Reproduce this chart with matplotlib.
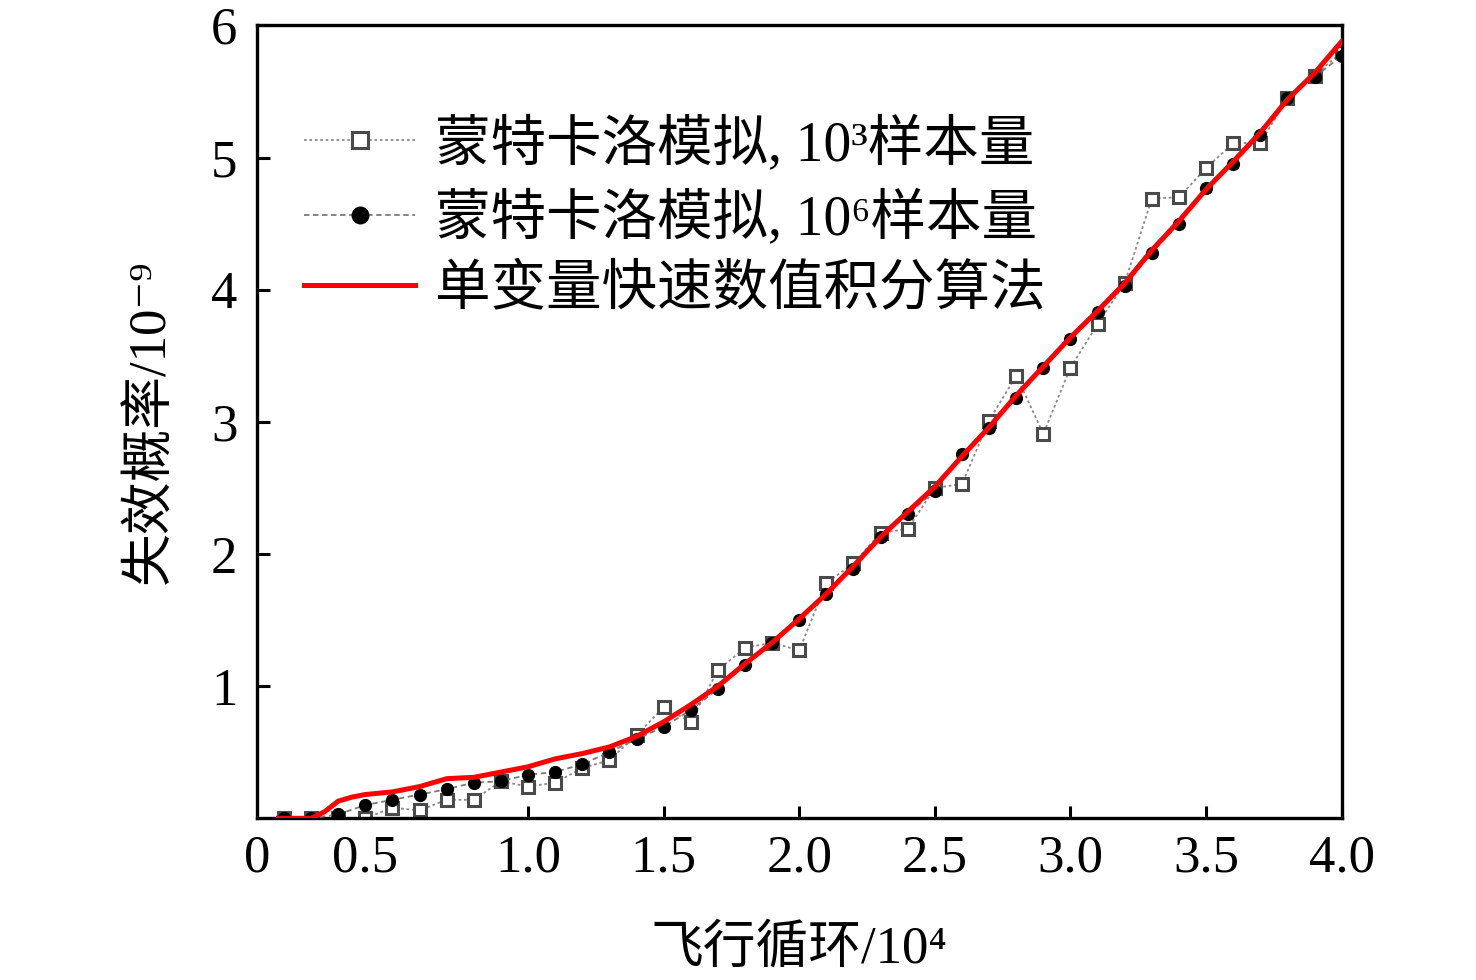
import matplotlib
matplotlib.use("Agg")
import matplotlib.pyplot as plt

plt.rcParams['font.family'] = ['Liberation Serif', 'Noto Sans CJK SC', 'DejaVu Serif']

# ---- data ----
x_mc = [0.1, 0.2, 0.3, 0.4, 0.5, 0.6, 0.7, 0.8, 0.9, 1.0,
        1.1, 1.2, 1.3, 1.4, 1.5, 1.6, 1.7, 1.8, 1.9, 2.0,
        2.1, 2.2, 2.3, 2.4, 2.5, 2.6, 2.7, 2.8, 2.9, 3.0,
        3.1, 3.2, 3.3, 3.4, 3.5, 3.6, 3.7, 3.8, 3.9, 4.0]
mc_1e3 = [0.00, 0.00, 0.00, 0.00, 0.08, 0.06, 0.14, 0.14, 0.28, 0.24,
          0.27, 0.38, 0.44, 0.63, 0.84, 0.73, 1.12, 1.29, 1.33, 1.27,
          1.78, 1.93, 2.16, 2.19, 2.50, 2.53, 3.01, 3.35, 2.91, 3.41,
          3.74, 4.05, 4.69, 4.70, 4.92, 5.11, 5.11, 5.45, 5.62, 5.80]
mc_1e6 = [0.00, 0.00, 0.03, 0.10, 0.14, 0.18, 0.22, 0.27, 0.28, 0.33,
          0.35, 0.41, 0.50, 0.60, 0.69, 0.82, 0.98, 1.16, 1.33, 1.50,
          1.70, 1.89, 2.13, 2.30, 2.48, 2.76, 2.95, 3.18, 3.41, 3.63,
          3.83, 4.03, 4.28, 4.50, 4.77, 4.95, 5.17, 5.45, 5.61, 5.77]
x_fast = [0.08, 0.2, 0.25, 0.3, 0.35, 0.4, 0.5, 0.6, 0.7, 0.8, 0.9, 1.0,
          1.1, 1.2, 1.3, 1.4, 1.5, 1.6, 1.7, 1.8, 1.9, 2.0,
          2.1, 2.2, 2.3, 2.4, 2.5, 2.6, 2.7, 2.8, 2.9, 3.0,
          3.1, 3.2, 3.3, 3.4, 3.5, 3.6, 3.7, 3.8, 3.9, 4.0]
fast = [0.00, 0.00, 0.05, 0.13, 0.16, 0.18, 0.20, 0.24, 0.30, 0.31, 0.35, 0.39,
        0.45, 0.49, 0.54, 0.62, 0.73, 0.86, 1.00, 1.17, 1.33, 1.51,
        1.70, 1.91, 2.13, 2.32, 2.51, 2.74, 2.96, 3.20, 3.42, 3.64,
        3.84, 4.05, 4.30, 4.52, 4.76, 4.97, 5.19, 5.44, 5.64, 5.88]

labels = ['蒙特卡洛模拟, 10³样本量', '蒙特卡洛模拟, 10⁶样本量', '单变量快速数值积分算法']
xtick_pos = [0.0, 0.4, 1.0, 1.5, 2.0, 2.5, 3.0, 3.5, 4.0]
xtick_lab = ['0', '0.5', '1.0', '1.5', '2.0', '2.5', '3.0', '3.5', '4.0']
ytick_pos = [1, 2, 3, 4, 5, 6]
ytick_lab = ['1', '2', '3', '4', '5', '6']

fig = plt.figure(figsize=(14.76, 9.8), dpi=100)
ax = fig.add_axes([0.174, 0.165, 0.735, 0.809])

ax.plot(x_mc, mc_1e3, linestyle=(0, (1.5, 1.5)), color='#8a8a8a', lw=1.3,
        marker='s', markersize=8, markerfacecolor='white',
        markeredgecolor='#4a4a4a', markeredgewidth=2.2, label=labels[0], zorder=2)
ax.plot(x_mc, mc_1e6, linestyle=(0, (3, 2)), color='#7a7a7a', lw=1.3,
        marker='o', markersize=8.5, markerfacecolor='black',
        markeredgecolor='black', label=labels[1], zorder=3)
ax.plot(x_fast, fast, color='#ff0000', lw=3.6, label=labels[2], zorder=4)

ax.set_xlim(0, 4.0)
ax.set_ylim(0, 6)
ax.set_xticks(xtick_pos)
ax.set_xticklabels(xtick_lab)
ax.set_yticks(ytick_pos)
ax.set_yticklabels(ytick_lab)
ax.tick_params(direction='in', length=9, width=2.2, labelsize=38, pad=12)
ax.tick_params(axis='y', pad=14)
for t in ax.xaxis.get_major_ticks()[:2]:
    t.tick1line.set_visible(False)
for s in ax.spines.values():
    s.set_linewidth(2.4)

ax.set_xlabel('飞行循环/10⁴', fontsize=38, labelpad=30)
ax.set_ylabel('失效概率/10⁻⁹', fontsize=38, labelpad=26)

leg = ax.legend(loc='upper left', bbox_to_anchor=(0.023, 0.914), frameon=False,
                fontsize=40, handlelength=2.0, handletextpad=0.35,
                labelspacing=0.33, numpoints=1, markerscale=1.4,
                borderaxespad=0)

fig.savefig('out.png', dpi=100)
